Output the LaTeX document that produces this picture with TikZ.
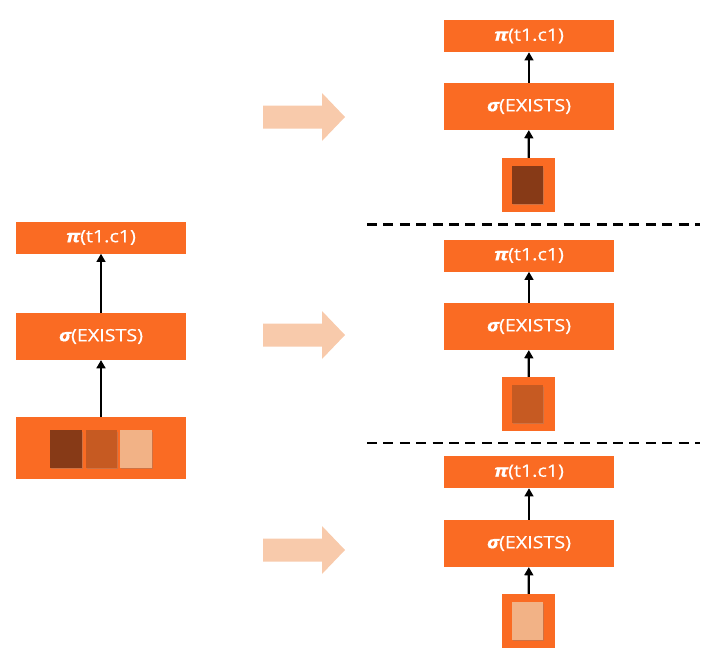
\documentclass[tikz,border=0pt]{standalone}
\usepackage{fontspec}
\setmainfont{Open Sans}[FakeStretch=1.16, FakeBold=0.6]
\usetikzlibrary{arrows.meta,shadows}

\definecolor{opfill}{HTML}{FA6B23}
\definecolor{chipdark}{HTML}{873A17}
\definecolor{chipmid}{HTML}{C65A22}
\definecolor{chiplight}{HTML}{F2B286}
\definecolor{peach}{HTML}{F8CAAB}

\newcommand{\proj}{{\bfseries\itshape π}(t1.c1)}
\newcommand{\sel}{{\bfseries\itshape σ}(EXISTS)}

\begin{document}
\begin{tikzpicture}[x=0.03cm, y=-0.03cm,
    opbox/.style={fill=opfill, text=white, inner sep=0pt, minimum width=5.1cm,
      font=\fontsize{14.5}{17}\selectfont},
    projbox/.style={opbox, minimum height=0.96cm},
    selbox/.style={opbox, minimum height=1.40cm},
    scanbox/.style={fill=opfill, inner sep=0pt},
    chip/.style={fill=#1, inner sep=0pt, minimum width=0.94cm, minimum height=1.13cm,
      drop shadow={shadow xshift=0.8pt, shadow yshift=-1.2pt, opacity=0.35}},
    flow/.style={line width=1.9pt, -{Triangle[length=7pt, width=7.5pt]}},
    cut/.style={line width=2.2pt, dash pattern=on 8.5pt off 5.5pt},
    bigarrow/.pic={\fill[peach] (-41,-11.5) -- (18,-11.5) -- (18,-24) -- (41,0)
      -- (18,24) -- (18,11.5) -- (-41,11.5) -- cycle;}]
    \useasboundingbox (0,0) rectangle (720,668);

    % original plan
    \node[projbox] (lproj) at (101,237.5) {\proj};
    \node[selbox] (lsel) at (101,336.5) {\sel};
    \node[scanbox, minimum width=5.1cm, minimum height=1.86cm] (lscan) at (101,448) {};
    \node[chip=chipdark] (lchipa) at (66,449) {};
    \node[chip=chipmid] (lchipb) at (101.5,449) {};
    \node[chip=chiplight] (lchipc) at (136,449) {};
    \draw[flow] (lscan) -- (lsel);
    \draw[flow] (lsel) -- (lproj);

    % split plans, one per chip
    \foreach \i/\yp/\ys/\yc/\col in {a/36/106.5/185/chipdark,
                                     b/255.5/326.5/404/chipmid,
                                     c/472/543.5/621/chiplight}{
      \node[projbox] (proj\i) at (529,\yp) {\proj};
      \node[selbox] (sel\i) at (529,\ys) {\sel};
      \node[scanbox, minimum width=1.59cm, minimum height=1.62cm] (scan\i) at (528.5,\yc) {};
      \node[chip=\col] (chip\i) at (527.5,\yc) {};
      \draw[flow] (scan\i) -- (sel\i);
      \draw[flow] (sel\i) -- (proj\i);
    }

    \pic at (304,117) {bigarrow};
    \pic at (304,335) {bigarrow};
    \pic at (304,550) {bigarrow};

    \coordinate (cutal) at (367,224.5);
    \coordinate (cutar) at (700,224.5);
    \coordinate (cutbl) at (367,443);
    \coordinate (cutbr) at (700,443);
    \draw[cut] (cutal) -- (cutar);
    \draw[cut] (cutbl) -- (cutbr);
\end{tikzpicture}
\end{document}
